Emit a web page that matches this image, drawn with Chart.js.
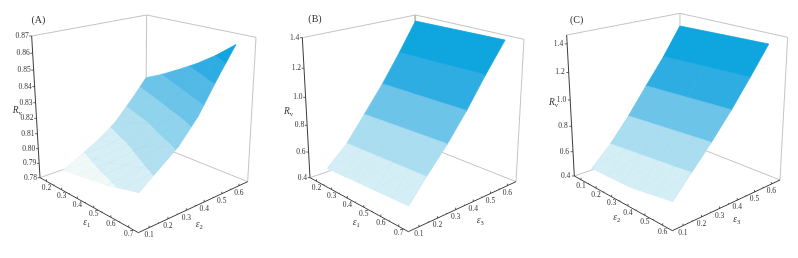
<!DOCTYPE html>
<html>
<head>
<meta charset="utf-8">
<script src="https://cdn.jsdelivr.net/npm/chart.js@4"></script>
<style>
html, body { margin: 0; padding: 0; background: #fff; overflow: hidden; }
canvas { position: absolute; top: 0; filter: blur(0.35px); }
</style>
</head>
<body>
<canvas id="chartA" width="270" height="258" style="left:0"></canvas>
<canvas id="chartB" width="260" height="258" style="left:270px"></canvas>
<canvas id="chartC" width="268" height="258" style="left:530px"></canvas>
<script>
// tick labels of the three panels
let eps1Ticks = [0.2, 0.3, 0.4, 0.5, 0.6, 0.7]
let eps1Minor = [0.25, 0.35, 0.45, 0.55, 0.65]
let eps2Ticks = [0.1, 0.2, 0.3, 0.4, 0.5, 0.6]
let eps2Minor = [0.15, 0.25, 0.35, 0.45, 0.55]
let zTicksA = [0.78, 0.79, 0.80, 0.81, 0.82, 0.83, 0.84, 0.85, 0.86, 0.87]
let zTicksB = [0.4, 0.6, 0.8, 1.0, 1.2, 1.4]
let zTicksC = [0.4, 0.6, 0.8, 1.0, 1.2, 1.4]

// contour levels and band colours
let levelsA = [0.80, 0.81, 0.82, 0.83, 0.84, 0.85, 0.86]
let coloursA = ['#f0f9f8', '#d6eef5', '#b2e0f0', '#90d3ec', '#6cc4e9', '#52b9e6', '#2eade3', '#0fa5df']
let levelsB = [0.709, 0.869, 1.041, 1.232]
let levelsC = [0.743, 0.898, 1.072, 1.253]
let coloursB = ['#d3eef5', '#aaddef', '#6dc4e9', '#2eade3', '#0fa5df']

// surface A: rows go along eps2, columns along eps1
let eps1A = [
    [0.315, 0.402, 0.490, 0.577, 0.665, 0.752],
    [0.307, 0.396, 0.485, 0.574, 0.663, 0.752],
    [0.299, 0.390, 0.480, 0.571, 0.661, 0.752],
    [0.291, 0.383, 0.475, 0.568, 0.660, 0.752],
    [0.283, 0.377, 0.471, 0.564, 0.658, 0.752],
    [0.275, 0.371, 0.466, 0.561, 0.657, 0.752]
]
let eps2A = [
    [0.044, 0.044, 0.044, 0.044, 0.044, 0.044],
    [0.145, 0.145, 0.145, 0.145, 0.145, 0.145],
    [0.247, 0.247, 0.247, 0.247, 0.247, 0.247],
    [0.348, 0.348, 0.348, 0.348, 0.348, 0.348],
    [0.449, 0.449, 0.449, 0.449, 0.449, 0.449],
    [0.540, 0.540, 0.540, 0.540, 0.540, 0.540]
]
let rA = [
    [0.7940, 0.7955, 0.7970, 0.7985, 0.8012, 0.8037],
    [0.7990, 0.8010, 0.8033, 0.8060, 0.8090, 0.8125],
    [0.8046, 0.8071, 0.8100, 0.8134, 0.8171, 0.8215],
    [0.8119, 0.8154, 0.8193, 0.8239, 0.8290, 0.8350],
    [0.8234, 0.8279, 0.8330, 0.8391, 0.8457, 0.8535],
    [0.8349, 0.8403, 0.8465, 0.8529, 0.8604, 0.8690]
]

// surface B: one row per contour
let eps1B = [[0.277, 0.752], [0.310, 0.752], [0.298, 0.752], [0.287, 0.752], [0.290, 0.752], [0.274, 0.752]]
let eps3B = [[0.044, 0.044], [0.124, 0.135], [0.232, 0.243], [0.343, 0.343], [0.435, 0.441], [0.540, 0.543]]
let rB = [[0.545, 0.567], [0.709, 0.709], [0.869, 0.869], [1.041, 1.041], [1.232, 1.232], [1.415, 1.420]]

// surface C, the front edge sags so it has a middle column
let eps2C = [
    [0.176, 0.4145, 0.653], [0.242, 0.4475, 0.653], [0.230, 0.4415, 0.653],
    [0.214, 0.4335, 0.653], [0.213, 0.433, 0.653], [0.204, 0.4285, 0.653]
]
let eps3C = [
    [0.044, 0.044, 0.044], [0.092, 0.116, 0.140], [0.202, 0.2225, 0.243],
    [0.314, 0.331, 0.348], [0.412, 0.429, 0.446], [0.512, 0.528, 0.544]
]
let rC = [
    [0.541, 0.548, 0.599], [0.743, 0.743, 0.743], [0.898, 0.898, 0.898],
    [1.072, 1.072, 1.072], [1.253, 1.253, 1.253], [1.443, 1.443, 1.443]
]

// panel geometry, in plane units of 1/3 px: the eight corners of the box
let panels = [
    {
        id: 'chartA', width: 270, title: '(A)', titleAt: [115, 62],
        a: eps1A, b: eps2A, z: rA, levels: levelsA, colours: coloursA, meshRows: 5, meshAcross: true,
        bottom: [[120, 533], [415, 698], [743, 545], [437, 422]],
        top: [[95, 108], [423, 205], [768, 112], [440, 45]],
        aRange: [0.156, 0.752], bRange: [0.044, 0.652], zRange: [0.78, 0.87],
        aWarp: 1.133, bWarp: 0.93, zWarp: 1.111,
        aTicks: eps1Ticks, aMinor: eps1Minor, bTicks: eps2Ticks, bMinor: eps2Minor,
        zTicks: zTicksA, zDecimals: 2, zLabelGap: 9,
        aName: '1', aNameAt: [250, 668], bName: '2', bNameAt: [587, 672], zNameAt: [38, 330]
    },
    {
        id: 'chartB', width: 260, title: '(B)', titleAt: [135, 58],
        a: eps1B, b: eps3B, z: rB, levels: levelsB, colours: coloursB, meshRows: 3, meshAcross: false,
        bottom: [[120, 533], [415, 695], [738, 545], [435, 425]],
        top: [[97, 113], [423, 190], [762, 118], [437, 45]],
        aRange: [0.156, 0.752], bRange: [0.044, 0.652], zRange: [0.4, 1.4],
        aWarp: 1.133, bWarp: 0.93, zWarp: 1.115,
        aTicks: eps1Ticks, aMinor: eps1Minor, bTicks: eps2Ticks, bMinor: eps2Minor,
        zTicks: zTicksB, zDecimals: 1, zLabelGap: 9,
        aName: '1', aNameAt: [248, 668], bName: '3', bNameAt: [620, 660], zNameAt: [42, 333]
    },
    {
        id: 'chartC', width: 268, title: '(C)', titleAt: [140, 60],
        a: eps2C, b: eps3C, z: rC, levels: levelsC, colours: coloursB, meshRows: 3, meshAcross: false,
        bottom: [[133, 528], [427, 692], [750, 540], [447, 420]],
        top: [[110, 105], [436, 185], [773, 112], [450, 40]],
        aRange: [0.054, 0.653], bRange: [0.044, 0.652], zRange: [0.4, 1.46],
        aWarp: 1.133, bWarp: 0.93, zWarp: 1.115,
        aTicks: eps2Ticks, aMinor: eps2Minor, bTicks: eps2Ticks, bMinor: eps2Minor,
        zTicks: zTicksC, zDecimals: 1, zLabelGap: 12,
        aName: '2', aNameAt: [250, 652], bName: '3', bNameAt: [610, 658], zNameAt: [57, 308]
    }
]

// perspective along one axis: t in 0..1 gives the share of the edge
function warp(t, r) {
    return t / (t + (1 - t) * r)
}

function bilerp(q, u, v) {
    return [0, 1].map(k =>
        q[0][k] * (1 - u) * (1 - v) + q[1][k] * u * (1 - v) + q[2][k] * u * v + q[3][k] * (1 - u) * v)
}

// data values -> plane position of the box
function project(p, a, b, z) {
    let u = warp((a - p.aRange[0]) / (p.aRange[1] - p.aRange[0]), p.aWarp)
    let v = warp((b - p.bRange[0]) / (p.bRange[1] - p.bRange[0]), p.bWarp)
    let w = warp((z - p.zRange[0]) / (p.zRange[1] - p.zRange[0]), p.zWarp)
    let lo = bilerp(p.bottom, u, v)
    let hi = bilerp(p.top, u, v)
    return { x: lo[0] + (hi[0] - lo[0]) * w, y: lo[1] + (hi[1] - lo[1]) * w }
}

// cut a polygon of [a, b, z] vertices at a z level
function clipZ(poly, level, keepAbove) {
    let out = []
    for (let i = 0; i < poly.length; i++) {
        let s = poly[i], e = poly[(i + 1) % poly.length]
        let sIn = keepAbove ? s[2] >= level : s[2] <= level
        let eIn = keepAbove ? e[2] >= level : e[2] <= level
        if (sIn) out.push(s)
        if (sIn !== eIn) {
            let t = (level - s[2]) / (e[2] - s[2])
            out.push([s[0] + (e[0] - s[0]) * t, s[1] + (e[1] - s[1]) * t, level])
        }
    }
    return out
}

function lineSet(data, colour, width, order) {
    return {
        data: data, showLine: true, borderColor: colour, borderWidth: width,
        pointRadius: 0, fill: false, order: order, clip: false
    }
}

function surfaceSets(p) {
    let sets = []
    let bounds = [-Infinity, ...p.levels, Infinity]
    for (let j = 0; j < p.z.length - 1; j++) {
        for (let i = 0; i < p.z[j].length - 1; i++) {
            let cell = [[j, i], [j, i + 1], [j + 1, i + 1], [j + 1, i]].map(n =>
                [p.a[n[0]][n[1]], p.b[n[0]][n[1]], p.z[n[0]][n[1]]])
            for (let k = 0; k < p.colours.length; k++) {
                let poly = clipZ(clipZ(cell, bounds[k], true), bounds[k + 1], false)
                if (poly.length < 3) continue
                let pts = poly.map(v => project(p, v[0], v[1], v[2]))
                pts.push(pts[0])
                sets.push({
                    data: pts, showLine: true, fill: 'shape', backgroundColor: p.colours[k],
                    borderColor: p.colours[k], borderWidth: 0.8, pointRadius: 0, order: 2, clip: false
                })
            }
        }
    }
    return sets
}

// point on row j of a surface, s runs 0..1 along the row
function rowPoint(p, j, s) {
    let pos = s * (p.z[j].length - 1)
    let i = Math.min(Math.floor(pos), p.z[j].length - 2)
    let f = pos - i
    let mix = g => g[j][i] + (g[j][i + 1] - g[j][i]) * f
    return project(p, mix(p.a), mix(p.b), mix(p.z))
}

// the faint triangle mesh showing through the surface
function meshSets(p) {
    let steps = [0, 0.2, 0.4, 0.6, 0.8, 1]
    let colour = 'rgba(105,150,170,0.07)'
    let sets = []
    for (let j = 0; j < p.meshRows; j++) {
        steps.forEach((s, i) => {
            sets.push(lineSet([rowPoint(p, j, s), rowPoint(p, j + 1, s)], colour, 0.6, 1.5))
            if (i < steps.length - 1) {
                sets.push(lineSet([rowPoint(p, j, s), rowPoint(p, j + 1, steps[i + 1])], colour, 0.6, 1.5))
                if (p.meshAcross && j > 0) {
                    sets.push(lineSet([rowPoint(p, j, s), rowPoint(p, j, steps[i + 1])], colour, 0.6, 1.5))
                }
            }
        })
    }
    return sets
}

function boxSets(p) {
    let aLo = p.aRange[0], aHi = p.aRange[1], bLo = p.bRange[0], bHi = p.bRange[1]
    let zLo = p.zRange[0], zHi = p.zRange[1]
    let grey = '#b4b4b4', dark = '#3c3c3c'
    let walls = [
        [project(p, aLo, bLo, zHi), project(p, aLo, bHi, zHi), project(p, aHi, bHi, zHi), project(p, aHi, bHi, zLo), project(p, aLo, bHi, zLo), project(p, aLo, bLo, zLo)],
        [project(p, aLo, bHi, zHi), project(p, aLo, bHi, zLo)]
    ]
    let axes = [project(p, aLo, bLo, zHi), project(p, aLo, bLo, zLo), project(p, aHi, bLo, zLo), project(p, aHi, bHi, zLo)]

    // tick marks, gaps between them by null points
    let ticks = []
    let mark = (at, dx, dy) => {
        ticks.push(at, { x: at.x + dx, y: at.y + dy }, { x: NaN, y: NaN })
    }
    p.aTicks.forEach(t => mark(project(p, t, bLo, zLo), 0, -6))
    p.aMinor.forEach(t => mark(project(p, t, bLo, zLo), 0, -3))
    p.bTicks.forEach(t => mark(project(p, aHi, t, zLo), 0, -6))
    p.bMinor.forEach(t => mark(project(p, aHi, t, zLo), 0, -3))
    p.zTicks.forEach(t => mark(project(p, aLo, bLo, t), -7, 0))

    return [
        lineSet(walls[0], grey, 0.8, 3),
        lineSet(walls[1], grey, 0.8, 3),
        lineSet(axes, dark, 1, 1),
        lineSet(ticks, dark, 0.8, 1)
    ]
}

// text of the box, placed through the chart's scales
let boxText = {
    id: 'boxText',
    afterDatasetsDraw(chart) {
        let p = chart.config.options.plugins.boxText.panel
        let ctx = chart.ctx
        let put = (x, y) => [chart.scales.x.getPixelForValue(x), chart.scales.y.getPixelForValue(y)]
        let aLo = p.aRange[0], aHi = p.aRange[1], bLo = p.bRange[0], zLo = p.zRange[0]
        let label = (text, at, dx, dy, align) => {
            let px = put(at.x + dx, at.y + dy)
            ctx.textAlign = align
            ctx.fillText(text, px[0], px[1])
        }
        ctx.save()
        ctx.fillStyle = '#333'
        ctx.textBaseline = 'middle'
        ctx.font = '7.5px "Liberation Serif"'
        p.aTicks.forEach(t => label(t.toFixed(1), project(p, t, bLo, zLo), 0, 20, 'center'))
        p.bTicks.forEach(t => label(t.toFixed(1), project(p, aHi, t, zLo), 0, 22, 'center'))
        p.zTicks.forEach(t => label(t.toFixed(p.zDecimals), project(p, aLo, bLo, t), -p.zLabelGap, 0, 'right'))

        ctx.font = '10px "Liberation Serif"'
        label(p.title, { x: p.titleAt[0], y: p.titleAt[1] }, 0, 0, 'center')

        // axis names with subscripts
        let named = (name, sub, at) => {
            let px = put(at[0], at[1])
            ctx.textAlign = 'left'
            ctx.font = 'italic 9.5px "Liberation Serif"'
            ctx.fillText(name, px[0], px[1])
            let w = ctx.measureText(name).width
            ctx.font = '6.5px "Liberation Serif"'
            ctx.fillText(sub, px[0] + w, px[1] + 3)
        }
        named('\u03b5', p.aName, p.aNameAt)
        named('\u03b5', p.bName, p.bNameAt)
        named('R', 'v', p.zNameAt)
        ctx.restore()
    }
}

for (let p of panels) {
    new Chart(document.getElementById(p.id), {
        type: 'scatter',
        data: { datasets: [...boxSets(p), ...meshSets(p), ...surfaceSets(p)] },
        options: {
            responsive: false,
            animation: false,
            layout: { padding: 0 },
            scales: {
                x: { type: 'linear', min: 0, max: p.width * 3, display: false },
                y: { type: 'linear', min: 0, max: 774, reverse: true, display: false }
            },
            plugins: { legend: { display: false }, tooltip: { enabled: false }, boxText: { panel: p } }
        },
        plugins: [boxText]
    })
}
</script>
</body>
</html>
